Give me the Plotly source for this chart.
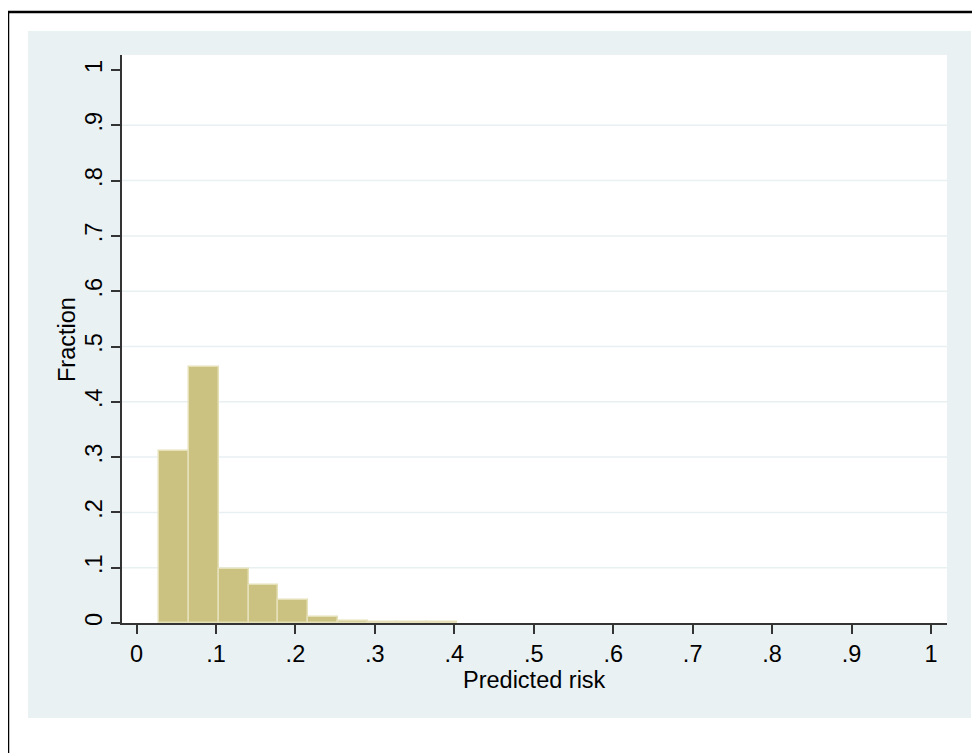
import plotly.graph_objects as go

# Histogram of predicted risk (fraction per bin)
bin_start = 0.0287
bin_width = 0.03747
fractions = [0.311, 0.463, 0.098, 0.069, 0.041, 0.010, 0.004, 0.002, 0.001, 0.001]

tick_vals = [0, 0.1, 0.2, 0.3, 0.4, 0.5, 0.6, 0.7, 0.8, 0.9, 1]
tick_text = ["0", ".1", ".2", ".3", ".4", ".5", ".6", ".7", ".8", ".9", "1"]
grid_vals = [0.1, 0.2, 0.3, 0.4, 0.5, 0.6, 0.7, 0.8, 0.9]

centers = [bin_start + bin_width * (i + 0.5) for i in range(len(fractions))]

OFF = 8  # page body margin
W, H = 980 - OFF, 753 - OFF
L, R, T, B = 122 - OFF, 947 - OFF, 55 - OFF, 623 - OFF  # plot area in pixels


def px_x(p):
    return (p - OFF - L) / (R - L)


def px_y(p):
    return (B - (p - OFF)) / (B - T)


fig = go.Figure()
fig.add_trace(go.Bar(
    x=centers, y=fractions, width=[bin_width] * len(fractions),
    marker=dict(color="#CBC281", line=dict(color="#E6E0B8", width=1.5)),
    hoverinfo="x+y",
))

shapes = [
    dict(type="rect", xref="paper", yref="paper", layer="below",
         x0=px_x(28), x1=px_x(971), y0=px_y(718), y1=px_y(31),
         fillcolor="#EAF1F3", line=dict(width=0)),
    dict(type="rect", xref="paper", yref="paper", layer="below",
         x0=0, x1=1, y0=0, y1=1, fillcolor="white", line=dict(width=0)),
    dict(type="rect", xref="paper", yref="paper", layer="above",
         x0=px_x(8), x1=px_x(995), y0=px_y(770), y1=px_y(12),
         fillcolor="rgba(0,0,0,0)", line=dict(color="black", width=2.5)),
]
for g in grid_vals:
    shapes.append(dict(type="line", xref="paper", yref="y", layer="below",
                       x0=0, x1=1, y0=g, y1=g,
                       line=dict(color="#E8F0F2", width=1.5)))

font_family = "Liberation Sans, Arial, sans-serif"
FS = 23.5

annotations = [
    dict(text="Predicted risk", xref="paper", yref="paper",
         x=0.5, y=px_y(680), xanchor="center", yanchor="middle",
         showarrow=False, font=dict(size=FS)),
    dict(text="Fraction", xref="paper", yref="paper", textangle=-90,
         x=px_x(67), y=px_y(340), xanchor="center", yanchor="middle",
         showarrow=False, font=dict(size=FS)),
]

fig.update_layout(
    width=W, height=H,
    margin=dict(l=L, r=W - R, t=T, b=H - B),
    paper_bgcolor="white",
    plot_bgcolor="rgba(0,0,0,0)",
    shapes=shapes,
    annotations=annotations,
    showlegend=False,
    bargap=0,
    font=dict(family=font_family, size=FS, color="black"),
    xaxis=dict(
        range=[(122 - 136.5) / 794.5, (947 - 136.5) / 794.5],
        tickvals=tick_vals, ticktext=tick_text,
        ticks="outside", ticklen=9, tickwidth=1.5, tickcolor="#333333",
        showline=True, linecolor="#333333", linewidth=1.5,
        showgrid=False, zeroline=False,
        tickfont=dict(size=FS),
    ),
    yaxis=dict(
        range=[0, (623 - 55) / 553.0],
        tickvals=tick_vals, ticktext=tick_text, tickangle=-90,
        ticks="outside", ticklen=9, tickwidth=1.5, tickcolor="#333333",
        showline=True, linecolor="#333333", linewidth=1.5,
        showgrid=False, zeroline=False,
        tickfont=dict(size=FS),
    ),
)

fig.write_html("out.html")
